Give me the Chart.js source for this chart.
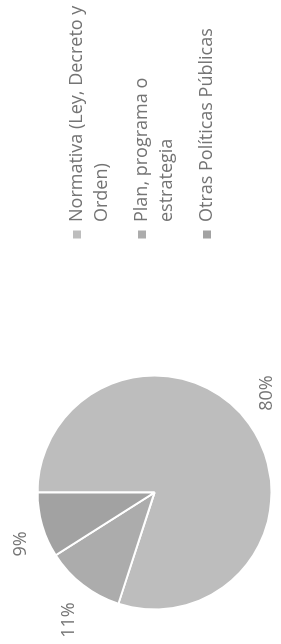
<!DOCTYPE html>
<html><head><meta charset="utf-8">
<script src="https://cdn.jsdelivr.net/npm/chart.js@4/dist/chart.umd.min.js"></script>
<style>
html,body{margin:0;padding:0;background:#fff;overflow:hidden;width:281px;height:644px;}
#wrap{position:absolute;left:0;top:0;width:644px;height:281px;transform-origin:0 0;transform:translate(0,644px) rotate(-90deg);}
canvas{display:block;}
</style></head><body>
<div id="wrap"><canvas id="c" width="644" height="281"></canvas></div>
<script>
const categories = [['Normativa (Ley, Decreto y', 'Orden)'], ['Plan, programa o', 'estrategia'], ['Otras Políticas Públicas']];
const values = [80, 11, 9];
const valueLabels = ['80%', '11%', '9%'];
const colors = ['#bdbdbd', '#acacac', '#a2a2a2'];

const FONT = '18px "Open Sans", Lato, sans-serif';
const TEXT_COLOR = '#747474';

const outsideLabels = {
  id: 'outsideLabels',
  afterDatasetsDraw(chart) {
    const ctx = chart.ctx;
    const meta = chart.getDatasetMeta(0);
    ctx.save();
    ctx.font = FONT;
    ctx.fillStyle = TEXT_COLOR;
    ctx.textBaseline = 'middle';
    meta.data.forEach((arc, i) => {
      const p = arc.getProps(['x', 'y', 'startAngle', 'endAngle', 'outerRadius'], true);
      const mid = (p.startAngle + p.endAngle) / 2;
      const d = p.outerRadius + 22;
      const px = p.x + Math.cos(mid) * d;
      const py = p.y + Math.sin(mid) * d;
      ctx.textAlign = Math.cos(mid) >= 0 ? 'left' : 'right';
      ctx.fillText(valueLabels[i], px, py);
    });
    ctx.restore();
  }
};

const sideLegend = {
  id: 'sideLegend',
  afterDraw(chart) {
    const ctx = chart.ctx;
    ctx.save();
    ctx.font = FONT;
    ctx.textBaseline = 'middle';
    ctx.textAlign = 'left';
    const boxX = 405.5, boxSize = 8, textX = 422, lineH = 25, gap = 15;
    let y = 77;
    categories.forEach((lines, i) => {
      ctx.fillStyle = colors[i];
      ctx.fillRect(boxX, y - boxSize / 2, boxSize, boxSize);
      ctx.fillStyle = TEXT_COLOR;
      lines.forEach((t, j) => ctx.fillText(t, textX, y + j * lineH));
      y += lines.length * lineH + gap;
    });
    ctx.restore();
  }
};

new Chart(document.getElementById('c'), {
  type: 'pie',
  data: {
    labels: categories.map(l => l.join(' ')),
    datasets: [{
      data: values,
      backgroundColor: colors,
      borderColor: '#ffffff',
      borderWidth: 2,
      hoverOffset: 0,
      radius: 117
    }]
  },
  options: {
    responsive: false,
    animation: false,
    layout: { padding: { left: 0, right: 341, top: 28, bottom: 0 } },
    plugins: { legend: { display: false }, tooltip: { enabled: false } }
  },
  plugins: [outsideLabels, sideLegend]
});
</script>
</body></html>
